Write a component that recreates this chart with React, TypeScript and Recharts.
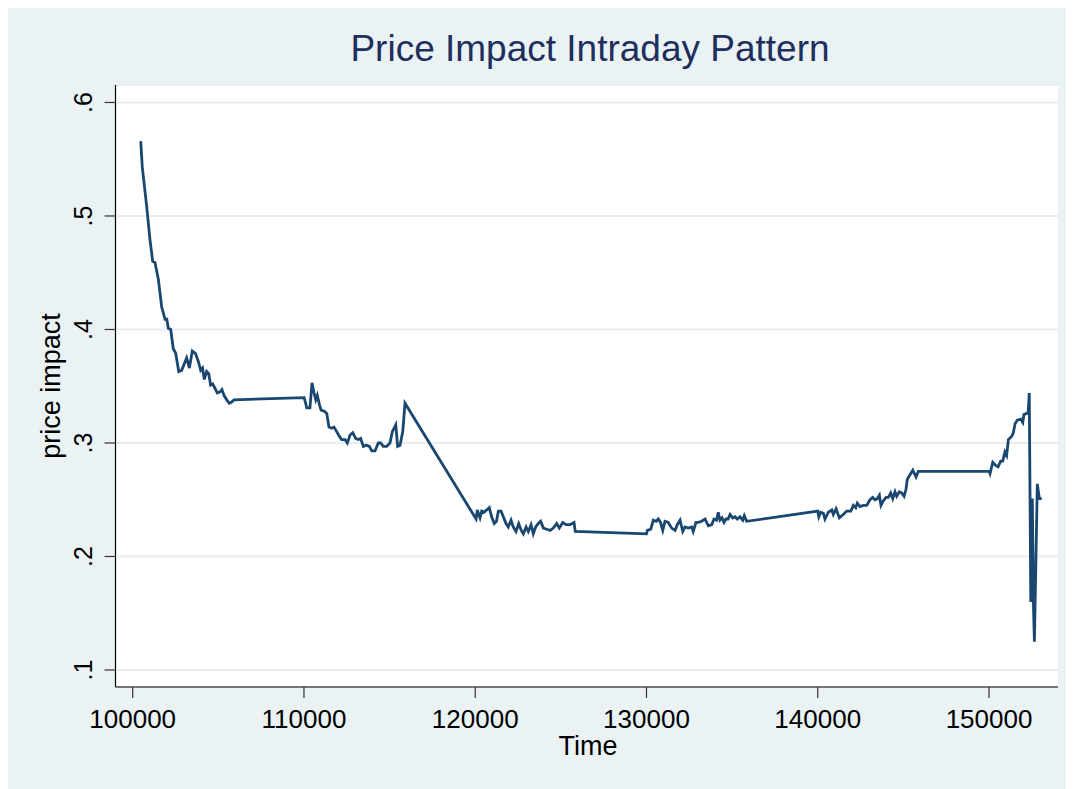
import React from 'react';
import { LineChart, Line, XAxis, YAxis, CartesianGrid, Label } from 'recharts';

// time of day (HHMMSS)
const times = [
  100470, 100560, 100820, 101010, 101170, 101300, 101500, 101690, 101890, 101990,
  102080, 102220, 102370, 102510, 102690, 102860, 103150, 103310, 103480, 103660,
  103830, 103970, 104080, 104180, 104320, 104440, 104550, 104670, 104810, 104940,
  105100, 105210, 105330, 105490, 105640, 105780, 105920,
  110010, 110100, 110160, 110350, 110470, 110590, 110690, 110780, 110900, 111000,
  111190, 111330, 111460, 111620, 111750, 111910, 112060, 112200, 112400, 112530,
  112690, 112850, 113020, 113170, 113310, 113470, 113660, 113820, 113960, 114150,
  114340, 114480, 114630, 114830, 115020, 115160, 115360, 115470, 115610, 115770,
  115900,
  120050, 120120, 120280, 120380, 120510, 120670, 120820, 120960, 121110, 121240,
  121350, 121510, 121640, 121800, 121930, 122090, 122220, 122380, 122540, 122690,
  122810, 122970, 123100, 123260, 123390, 123530, 123680, 123820, 123980, 124170,
  124370, 124560, 124760, 124910, 125110, 125300, 125540, 125770, 125840,
  130000, 130050, 130250, 130400, 130560, 130690, 130820, 130950, 131080, 131270,
  131470, 131670, 131800, 131960, 132120, 132250, 132440, 132640, 132730, 132890,
  133030, 133220, 133420, 133610, 133810, 133940, 134090, 134190, 134290, 134410,
  134530, 134640, 134760, 134880, 135030, 135170, 135300, 135460, 135620, 135710,
  135850,
  140000, 140060, 140170, 140330, 140420, 140620, 140820, 140910, 141070, 141260,
  141490, 141690, 141930, 142080, 142220, 142310, 142470, 142660, 142860, 143050,
  143210, 143340, 143480, 143600, 143690, 143830, 143990, 144120, 144260, 144380,
  144510, 144610, 144760, 144900, 145040, 145150, 145230, 145390, 145550, 145740,
  145870,
  150010, 150060, 150220, 150410, 150530, 150680, 150800, 150930, 151030, 151130,
  151330, 151420, 151520, 151650, 151850, 151970, 152040, 152200, 152280, 152350,
  152440, 152530, 152590, 152650, 152820, 152940, 153080,
];

const priceImpact = [
  0.566, 0.543, 0.508, 0.479, 0.460, 0.459, 0.444, 0.420, 0.409, 0.409,
  0.401, 0.400, 0.383, 0.379, 0.363, 0.364, 0.375, 0.366, 0.381, 0.379,
  0.372, 0.364, 0.366, 0.356, 0.363, 0.361, 0.351, 0.352, 0.348, 0.344,
  0.345, 0.347, 0.342, 0.338, 0.335, 0.336, 0.338,
  0.340, 0.335, 0.331, 0.331, 0.353, 0.344, 0.338, 0.342, 0.334, 0.329,
  0.328, 0.326, 0.314, 0.313, 0.314, 0.310, 0.306, 0.303, 0.303, 0.300,
  0.307, 0.309, 0.304, 0.303, 0.304, 0.297, 0.298, 0.297, 0.293, 0.293,
  0.300, 0.300, 0.297, 0.297, 0.300, 0.310, 0.316, 0.297, 0.298, 0.310,
  0.335,
  0.233, 0.241, 0.234, 0.240, 0.239, 0.241, 0.243, 0.235, 0.229, 0.231,
  0.240, 0.240, 0.235, 0.229, 0.226, 0.232, 0.226, 0.222, 0.229, 0.223,
  0.220, 0.226, 0.222, 0.228, 0.220, 0.226, 0.229, 0.231, 0.225, 0.224,
  0.223, 0.225, 0.229, 0.225, 0.230, 0.228, 0.228, 0.230, 0.222,
  0.220, 0.223, 0.224, 0.232, 0.231, 0.233, 0.230, 0.223, 0.231, 0.230,
  0.225, 0.223, 0.228, 0.232, 0.222, 0.226, 0.225, 0.226, 0.222, 0.230,
  0.230, 0.231, 0.233, 0.227, 0.228, 0.233, 0.232, 0.239, 0.232, 0.234,
  0.230, 0.233, 0.233, 0.237, 0.234, 0.235, 0.233, 0.235, 0.232, 0.236,
  0.231,
  0.240, 0.235, 0.239, 0.238, 0.233, 0.239, 0.241, 0.237, 0.242, 0.234,
  0.237, 0.240, 0.240, 0.245, 0.243, 0.247, 0.244, 0.245, 0.245, 0.250,
  0.252, 0.250, 0.251, 0.254, 0.245, 0.249, 0.252, 0.252, 0.256, 0.251,
  0.257, 0.253, 0.257, 0.256, 0.253, 0.259, 0.268, 0.272, 0.276, 0.270,
  0.275,
  0.275, 0.273, 0.283, 0.280, 0.279, 0.284, 0.284, 0.292, 0.289, 0.303,
  0.306, 0.309, 0.317, 0.320, 0.321, 0.318, 0.325, 0.326, 0.326, 0.344,
  0.160, 0.251, 0.160, 0.125, 0.264, 0.251, 0.251,
];

const xTicks = [100000, 110000, 120000, 130000, 140000, 150000];
const yTicks = [0.1, 0.2, 0.3, 0.4, 0.5, 0.6];
const yTickLabels = ['.1', '.2', '.3', '.4', '.5', '.6'];

const data = times.map((t, i) => ({ time: t, impact: priceImpact[i] }));

const FONT = '"Liberation Sans", Arial, Helvetica, sans-serif';
const NAVY = '#1a476f';

const YTick = (props: any) => {
  const { y, payload } = props;
  const idx = yTicks.findIndex(v => Math.abs(v - payload.value) < 1e-9);
  return (
    <text
      x={84}
      y={y}
      transform={`rotate(-90, 84, ${y})`}
      textAnchor="middle"
      fontSize={25}
      fontFamily={FONT}
      fill="#000"
    >
      {idx >= 0 ? yTickLabels[idx] : payload.value}
    </text>
  );
};

const XTick = (props: any) => {
  const { x, payload } = props;
  return (
    <text x={x} y={720} textAnchor="middle" fontSize={26} fontFamily={FONT} fill="#000">
      {payload.value}
    </text>
  );
};

const App: React.FC = () => {
  return (
    <div style={{ width: 1066, height: 781, background: '#eaf2f3', position: 'relative' }}>
      <style>{'html, body { overflow: hidden; }'}</style>
      <LineChart
        width={1066}
        height={781}
        data={data}
        margin={{ top: 77, right: 16, left: 0, bottom: 42 }}
      >
        <CartesianGrid
          horizontal={true}
          vertical={false}
          fill="#ffffff"
          stroke="#e6eef1"
          strokeWidth={2}
        />
        <XAxis
          dataKey="time"
          type="number"
          domain={[98996, 154028]}
          ticks={xTicks}
          allowDataOverflow
          height={60}
          tick={<XTick />}
          tickSize={11}
          axisLine={{ stroke: '#000', strokeWidth: 1.2 }}
          tickLine={{ stroke: '#333', strokeWidth: 1.2 }}
        >
          <Label
            content={() => (
              <text x={580} y={747} textAnchor="middle" fontSize={27} fontFamily={FONT} fill="#000">
                Time
              </text>
            )}
          />
        </XAxis>
        <YAxis
          type="number"
          domain={[0.085, 0.6154]}
          ticks={yTicks}
          allowDataOverflow
          width={107.5}
          tick={<YTick />}
          tickSize={11}
          axisLine={{ stroke: '#000', strokeWidth: 1.2 }}
          tickLine={{ stroke: '#333', strokeWidth: 1.2 }}
        >
          <Label
            content={() => (
              <text
                x={52}
                y={378}
                transform="rotate(-90, 52, 378)"
                textAnchor="middle"
                fontSize={27}
                fontFamily={FONT}
                fill="#000"
              >
                price impact
              </text>
            )}
          />
        </YAxis>
        <Line
          type="linear"
          dataKey="impact"
          stroke={NAVY}
          strokeWidth={2.8}
          dot={false}
          activeDot={false}
          isAnimationActive={false}
        />
        <text x={582} y={53} textAnchor="middle" fontSize={37} fontFamily={FONT} fill="#1e2f5e">
          Price Impact Intraday Pattern
        </text>
      </LineChart>
    </div>
  );
};

export default App;
